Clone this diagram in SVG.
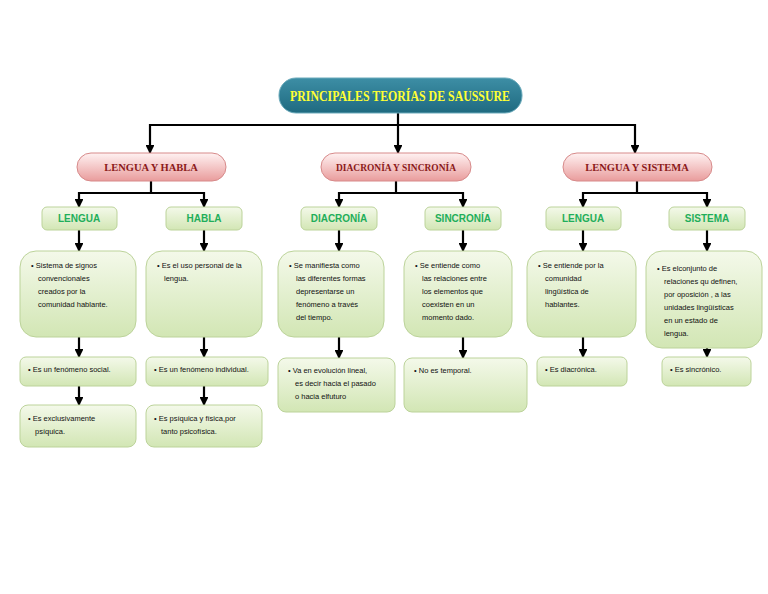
<svg xmlns="http://www.w3.org/2000/svg" width="768" height="594" viewBox="0 0 768 594">
<defs>
<linearGradient id="gp" x1="0" y1="0" x2="0" y2="1"><stop offset="0" stop-color="#fff2f2"/><stop offset="1" stop-color="#e99c9c"/></linearGradient>
<linearGradient id="gg" x1="0" y1="0" x2="0" y2="1"><stop offset="0" stop-color="#f4f9ea"/><stop offset="1" stop-color="#d2e6b4"/></linearGradient>
<linearGradient id="gt" x1="0" y1="0" x2="0" y2="1"><stop offset="0" stop-color="#3d8ea5"/><stop offset="1" stop-color="#1f6a80"/></linearGradient>
<marker id="ar" viewBox="0 0 10 10" refX="9" refY="5" markerWidth="4" markerHeight="4" orient="auto"><path d="M0,0L10,5L0,10z" fill="#000"/></marker>
<style>
.pk{fill:url(#gp);stroke:#d78a8a;stroke-width:1}
.gr{fill:url(#gg);stroke:#bcd39a;stroke-width:1}
.pt{font-family:"Liberation Serif",serif;font-weight:bold;font-size:10.5px;fill:#8b1a1a;text-anchor:middle}
.gt{font-family:"Liberation Sans",sans-serif;font-weight:bold;font-size:10px;fill:#1fae5a;text-anchor:middle}
.bt{font-family:"Liberation Sans",sans-serif;font-size:7.5px;fill:#111}
.c{fill:none;stroke:#000;stroke-width:2.2}
.a{fill:none;stroke:#000;stroke-width:2.2;marker-end:url(#ar)}
</style>
</defs>
<rect width="768" height="594" fill="#fff"/>
<g id="connectors">
<path class="c" d="M398,113V125M150,125H635"/>
<path class="a" d="M150,124V153"/><path class="a" d="M398,124V153"/><path class="a" d="M635,124V153"/>
<path class="c" d="M151,181V193M79,193H204M396,181V193M339,193H463M637,181V193M583,193H707"/>
<path class="a" d="M79,192V207"/><path class="a" d="M204,192V207"/><path class="a" d="M339,192V207"/><path class="a" d="M463,192V207"/><path class="a" d="M583,192V207"/><path class="a" d="M707,192V207"/>
<path class="a" d="M79,230V251"/><path class="a" d="M204,230V251"/><path class="a" d="M339,230V251"/><path class="a" d="M463,230V251"/><path class="a" d="M583,230V251"/><path class="a" d="M707,230V251"/>
<path class="a" d="M79,337V357"/><path class="a" d="M204,337V357"/><path class="a" d="M339,337V358"/><path class="a" d="M463,337V358"/><path class="a" d="M583,337V357"/><path class="a" d="M707,348V357"/>
<path class="a" d="M79,386V405"/><path class="a" d="M204,386V405"/>
</g>
<g id="title"><rect x="279" y="78" width="243" height="35" rx="17" fill="url(#gt)" stroke="#6aaabb"/><text x="400" y="101" text-anchor="middle" font-family="Liberation Serif,serif" font-weight="bold" font-size="14" fill="#ffff33" textLength="220" lengthAdjust="spacingAndGlyphs">PRINCIPALES TEORÍAS DE SAUSSURE</text></g>
<g id="n-lh"><rect class="pk" x="77" y="153" width="149" height="28" rx="14"/><text class="pt" x="151" y="171">LENGUA Y HABLA</text></g>
<g id="n-ds"><rect class="pk" x="321" y="153" width="150" height="28" rx="14"/><text class="pt" x="396" y="171" textLength="120" lengthAdjust="spacingAndGlyphs">DIACRONÍA Y SINCRONÍA</text></g>
<g id="n-ls"><rect class="pk" x="563" y="153" width="149" height="28" rx="14"/><text class="pt" x="637" y="171">LENGUA Y SISTEMA</text></g>
<g id="n-lengua1"><rect class="gr" x="42" y="207" width="75" height="23" rx="5"/><text class="gt" x="79" y="222">LENGUA</text></g>
<g id="n-habla"><rect class="gr" x="166" y="207" width="76" height="23" rx="5"/><text class="gt" x="204" y="222">HABLA</text></g>
<g id="n-diac"><rect class="gr" x="301" y="207" width="76" height="23" rx="5"/><text class="gt" x="339" y="222">DIACRONÍA</text></g>
<g id="n-sinc"><rect class="gr" x="425" y="207" width="76" height="23" rx="5"/><text class="gt" x="463" y="222">SINCRONÍA</text></g>
<g id="n-lengua2"><rect class="gr" x="546" y="207" width="75" height="23" rx="5"/><text class="gt" x="583" y="222">LENGUA</text></g>
<g id="n-sistema"><rect class="gr" x="669" y="207" width="76" height="23" rx="5"/><text class="gt" x="707" y="222">SISTEMA</text></g>
<g id="b1"><rect class="gr" x="20" y="251" width="116" height="86" rx="16"/><text class="bt"><tspan x="31" y="268">• Sistema de  signos</tspan><tspan x="38" y="281">convencionales</tspan><tspan x="38" y="294">creados por la</tspan><tspan x="38" y="307">comunidad hablante.</tspan></text></g>
<g id="b2"><rect class="gr" x="146" y="251" width="116" height="86" rx="16"/><text class="bt"><tspan x="157" y="268">• Es el uso personal de la</tspan><tspan x="164" y="281">lengua.</tspan></text></g>
<g id="b3"><rect class="gr" x="278" y="251" width="106" height="86" rx="16"/><text class="bt"><tspan x="289" y="268">• Se manifiesta como</tspan><tspan x="296" y="281">las diferentes formas</tspan><tspan x="296" y="294">depresentarse un</tspan><tspan x="296" y="307">fenómeno a través</tspan><tspan x="296" y="320">del tiempo.</tspan></text></g>
<g id="b4"><rect class="gr" x="404" y="251" width="108" height="86" rx="16"/><text class="bt"><tspan x="415" y="268">• Se entiende  como</tspan><tspan x="422" y="281">las relaciones entre</tspan><tspan x="422" y="294">los elementos que</tspan><tspan x="422" y="307">coexisten en un</tspan><tspan x="422" y="320">momento dado.</tspan></text></g>
<g id="b5"><rect class="gr" x="527" y="251" width="109" height="86" rx="16"/><text class="bt"><tspan x="538" y="268">• Se entiende por la</tspan><tspan x="545" y="281">comunidad</tspan><tspan x="545" y="294">lingüística de</tspan><tspan x="545" y="307">hablantes.</tspan></text></g>
<g id="b6"><rect class="gr" x="646" y="251" width="116" height="97" rx="16"/><text class="bt"><tspan x="657" y="271">• Es elconjunto de</tspan><tspan x="664" y="284">relaciones qu definen,</tspan><tspan x="664" y="297">por oposición , a las</tspan><tspan x="664" y="310">unidades lingüísticas</tspan><tspan x="664" y="323">en un estado de</tspan><tspan x="664" y="336">lengua.</tspan></text></g>
<g id="c1"><rect class="gr" x="20" y="357" width="116" height="29" rx="6"/><text class="bt"><tspan x="28" y="372">• Es un fenómeno social.</tspan></text></g>
<g id="c2"><rect class="gr" x="146" y="357" width="122" height="29" rx="6"/><text class="bt"><tspan x="154" y="372">• Es un fenómeno individual.</tspan></text></g>
<g id="c3"><rect class="gr" x="278" y="358" width="117" height="54" rx="8"/><text class="bt"><tspan x="288" y="373">• Va en evolución lineal,</tspan><tspan x="295" y="386">es decir hacia el pasado</tspan><tspan x="295" y="399">o hacia elfuturo</tspan></text></g>
<g id="c4"><rect class="gr" x="404" y="358" width="123" height="54" rx="8"/><text class="bt"><tspan x="414" y="373">• No es temporal.</tspan></text></g>
<g id="c5"><rect class="gr" x="537" y="357" width="90" height="29" rx="6"/><text class="bt"><tspan x="545" y="372">• Es diacrónica.</tspan></text></g>
<g id="c6"><rect class="gr" x="662" y="357" width="89" height="29" rx="6"/><text class="bt"><tspan x="670" y="372">• Es  sincrónico.</tspan></text></g>
<g id="d1"><rect class="gr" x="20" y="405" width="116" height="42" rx="8"/><text class="bt"><tspan x="28" y="421">• Es exclusivamente</tspan><tspan x="35" y="434">psíquica.</tspan></text></g>
<g id="d2"><rect class="gr" x="146" y="405" width="116" height="42" rx="8"/><text class="bt"><tspan x="154" y="421">• Es psíquica y física,por</tspan><tspan x="161" y="434">tanto psicofísica.</tspan></text></g>
</svg>
